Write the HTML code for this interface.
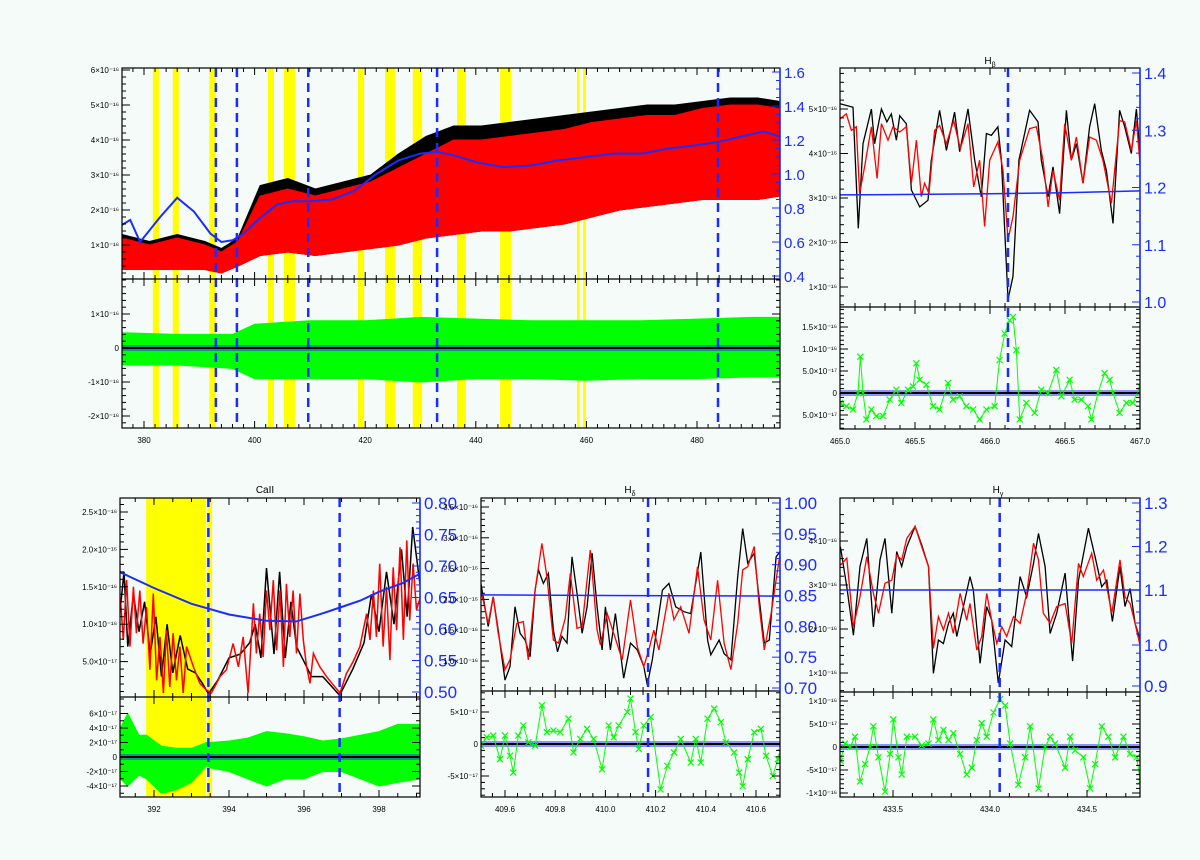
<!DOCTYPE html>
<html><head><meta charset="utf-8">
<style>
html,body{margin:0;padding:0;background:#f5fbf8;}
svg{display:block;}
text{font-family:"Liberation Sans",sans-serif;}
</style></head>
<body>
<svg id="chart" xmlns="http://www.w3.org/2000/svg" width="1200" height="860" viewBox="0 0 1200 860">
<rect x="0" y="0" width="1200" height="860" fill="#f5fbf8"/>
<text x="990" y="64" font-size="10" text-anchor="middle">H<tspan font-size="7" dy="3">β</tspan></text>
<text x="265" y="493" font-size="10" text-anchor="middle">CaII</text>
<text x="630" y="493" font-size="10" text-anchor="middle">H<tspan font-size="7" dy="3">δ</tspan></text>
<text x="998" y="493" font-size="10" text-anchor="middle">H<tspan font-size="7" dy="3">γ</tspan></text>
</svg>
<script>
// ===== Panel 1 (full spectrum) data =====
const p1Wave = [376,381,386,391,394,397,401,406,411,416,421,426,431,436,441,446,451,456,461,466,471,476,481,486,491,495];
const p1BlackHi = [1.3,1.1,1.3,1.1,0.9,1.2,2.7,2.9,2.6,2.8,3.0,3.6,4.1,4.4,4.4,4.5,4.6,4.7,4.8,4.9,5.0,5.0,5.1,5.2,5.2,5.1];
const p1RedHi = [1.2,1.0,1.2,1.0,0.8,1.1,2.4,2.6,2.4,2.6,2.8,3.2,3.6,4.0,4.0,4.1,4.2,4.3,4.5,4.6,4.7,4.7,4.9,5.0,5.0,4.9];
const p1Lo = [0.3,0.3,0.3,0.3,0.2,0.4,0.7,0.8,0.7,0.8,0.9,1.0,1.2,1.3,1.4,1.4,1.5,1.6,1.8,2.0,2.1,2.2,2.3,2.3,2.3,2.4];
const p1ContWave = [376,377.5,379.3,383,386,389,392,394,396,398,401,404,407,410,414,418,422,426,430,433,436,440,445,450,455,460,465,470,475,480,484,488,492,495];
const p1Cont = [0.70,0.73,0.60,0.75,0.86,0.78,0.65,0.60,0.61,0.65,0.74,0.82,0.84,0.84,0.85,0.90,1.00,1.08,1.12,1.13,1.11,1.07,1.04,1.05,1.08,1.10,1.12,1.12,1.15,1.17,1.19,1.22,1.25,1.22];
const p1ResWave = [376,386,396,400,410,420,430,440,450,460,470,480,490,495];
const p1ResHi = [0.45,0.4,0.4,0.7,0.8,0.8,0.9,0.85,0.8,0.8,0.8,0.85,0.9,0.9];
const p1ResLo = [-0.5,-0.5,-0.6,-0.9,-0.9,-0.9,-1.0,-0.9,-0.9,-0.95,-0.9,-0.9,-0.85,-0.85];
const p1Yellow = [[381.6,382.7],[385.2,386.3],[391.8,393.0],[402.4,403.5],[405.3,407.3],[418.7,419.8],[423.6,425.4],[428.6,430.3],[436.6,438.2],[444.4,446.4],[458.3,458.8],[459.4,459.9]];
const p1Lines = [393.0,396.8,409.7,433.0,483.8];
const p1XTicks = [380,400,420,440,460,480];
const p1YTicks = [1,2,3,4,5,6];
const p1ResTicks = [1,0,-1,-2];
const p1RightTicks = [0.4,0.6,0.8,1.0,1.2,1.4,1.6];

// ===== Panel 2 (H beta) =====
const p2Wave = [465.000,465.087,465.122,465.153,465.209,465.231,465.276,465.313,465.342,465.376,465.398,465.442,465.476,465.531,465.587,465.609,465.664,465.709,465.764,465.798,465.853,465.898,465.942,465.976,466.009,466.053,466.076,466.120,466.153,466.193,466.264,466.320,466.342,466.387,466.420,466.464,466.509,466.542,466.576,466.620,466.664,466.698,466.742,466.776,466.820,466.864,466.898,466.942,466.976,467.000];
const p2Black = [5.12,5.04,2.32,4.22,5.00,4.22,5.00,4.71,4.89,4.30,4.85,4.67,3.18,2.80,2.95,3.85,4.97,4.07,4.93,4.04,5.00,3.85,3.03,4.45,4.41,4.60,3.85,0.72,1.24,3.85,4.97,4.71,3.85,3.03,3.70,2.65,4.97,3.85,4.22,3.33,4.60,5.12,4.07,3.62,2.43,4.97,4.60,4.00,5.00,4.00];
const p2RedWave = [465.000,465.042,465.076,465.109,465.131,465.164,465.209,465.247,465.276,465.320,465.353,465.398,465.442,465.476,465.509,465.542,465.564,465.593,465.631,465.664,465.709,465.758,465.802,465.853,465.891,465.931,465.964,465.998,466.053,466.087,466.120,466.153,466.198,466.264,466.309,466.353,466.387,466.420,466.464,466.498,466.542,466.576,466.620,466.664,466.709,466.753,466.809,466.864,466.898,466.942,466.976,467.000];
const p2Red = [4.78,4.89,4.52,4.60,3.10,3.70,4.60,3.44,4.67,4.30,4.60,4.48,4.60,3.33,4.30,3.03,3.33,3.10,4.52,4.63,4.22,4.74,4.11,4.67,3.25,3.85,2.36,3.85,4.26,3.62,2.06,2.58,3.85,4.56,4.60,3.85,2.80,3.62,2.95,4.67,3.85,4.37,3.33,4.37,4.30,3.85,2.88,4.74,4.71,4.07,4.74,3.77];
const p2ContWave = [465.0,465.5,466.0,466.5,467.0];
const p2Cont = [1.187,1.188,1.189,1.191,1.194];
const p2ResWave = [465.000,465.042,465.087,465.120,465.136,465.153,465.176,465.209,465.242,465.287,465.331,465.376,465.409,465.453,465.487,465.509,465.531,465.576,465.620,465.664,465.720,465.753,465.798,465.842,465.887,465.931,465.976,466.031,466.064,466.098,466.131,466.153,466.176,466.198,466.242,466.298,466.342,466.387,466.442,466.476,466.531,466.564,466.609,466.653,466.676,466.720,466.764,466.798,466.820,466.864,466.909,466.953,467.000];
const p2Res = [-0.225,-0.30,-0.375,0,0.825,0,-0.60,-0.375,-0.525,-0.525,-0.15,0.075,-0.225,0.075,0.15,0.675,0.30,0.19,-0.30,-0.375,0.225,-0.15,-0.075,-0.30,-0.375,-0.60,-0.375,-0.30,0.75,1.35,1.65,1.725,0.975,-0.60,-0.225,-0.45,0.075,0,0.525,-0.075,0.30,-0.15,-0.15,-0.30,-0.60,0,0.45,0.30,0,-0.45,-0.225,-0.225,0.15];
const p2Line = 466.12;
const p2XTicks = [465.0,465.5,466.0,466.5,467.0];
const p2XLabels = ["465.0","465.5","466.0","466.5","467.0"];
const p2YTicks = [1,2,3,4,5];
const p2ResTicks = [1.5,1.0,0.5,0,-0.5];
const p2ResLabels = ["1.5×10⁻¹⁶","1.0×10⁻¹⁶","5.0×10⁻¹⁷","0","5.0×10⁻¹⁷"];
const p2RightTicks = [1.0,1.1,1.2,1.3,1.4];

// ===== Panel 3 (CaII) =====
const p3Wave = [391.10,391.18,391.27,391.36,391.45,391.53,391.62,391.71,391.80,391.89,391.98,392.07,392.16,392.25,392.33,392.42,392.51,392.60,392.69,392.78,392.87,393.05,393.22,393.40,393.53,393.76,393.93,394.11,394.25,394.38,394.51,394.65,394.73,394.82,394.91,395.00,395.09,395.18,395.27,395.36,395.45,395.53,395.62,395.71,395.80,395.89,395.98,396.07,396.16,396.25,396.33,396.42,396.60,396.78,396.96,397.13,397.31,397.49,397.67,397.76,397.85,397.93,398.02,398.11,398.20,398.29,398.38,398.47,398.56,398.65,398.74,398.82,398.91,399.00,399.10];
const p3Red = [1.36,0.79,1.59,0.70,1.50,0.88,1.45,0.74,1.23,0.39,1.41,0.25,0.83,0.08,0.92,0.16,0.88,0.25,0.70,0.08,0.70,0.43,0.21,0.12,0.08,0.30,0.39,0.74,0.43,0.83,0.08,1.28,0.61,1.14,0.56,1.45,0.92,1.59,0.65,1.45,0.43,1.54,0.83,1.45,0.61,1.41,0.79,0.43,0.21,0.61,0.52,0.43,0.30,0.19,0.08,0.34,0.50,0.70,1.14,0.79,1.45,0.83,1.81,0.70,1.50,0.52,1.76,0.92,2.03,0.79,2.12,1.05,1.81,1.19,1.36];
const p3BlackWave = [391.10,391.20,391.30,391.45,391.60,391.75,391.90,392.05,392.20,392.35,392.50,392.70,392.90,393.10,393.30,393.45,393.70,394.00,394.30,394.55,394.70,394.85,395.00,395.20,395.35,395.50,395.65,395.80,396.00,396.20,396.50,396.95,397.30,397.60,397.80,398.00,398.20,398.40,398.60,398.75,398.90,399.10];
const p3Black = [1.20,1.70,0.70,1.40,0.90,1.30,0.60,1.10,0.30,1.00,0.35,0.85,0.40,0.35,0.20,0.07,0.25,0.55,0.60,0.75,1.00,0.55,1.75,0.60,1.70,0.55,1.30,0.70,0.50,0.30,0.30,0.05,0.40,0.75,1.40,0.90,1.70,1.00,2.00,1.10,2.30,1.50];
const p3ContWave = [391.1,392.0,393.0,394.0,395.0,395.8,396.5,397.0,397.5,398.0,398.6,399.1];
const p3Cont = [0.690,0.665,0.640,0.623,0.613,0.612,0.625,0.635,0.645,0.659,0.672,0.688];
const p3ResWave = [391.1,391.3,391.6,391.8,392.2,392.6,393.0,393.4,393.5,394.0,394.5,395.0,395.5,396.0,396.5,397.0,397.5,398.0,398.5,399.1];
const p3ResHi = [4,6,3,3,1.5,1.2,1.2,2,2,2.2,2.6,3.5,3.2,2.8,2.2,2.5,3.0,3.5,4.5,4.5];
const p3ResLo = [-3,-4,-2.5,-3,-5,-4.5,-3.5,-1.2,-1.5,-2,-3,-4,-3,-3,-2,-2,-3,-4,-3.5,-3];
const p3Yellow = [[391.79,393.39],[393.42,393.55]];
const p3Lines = [393.45,396.95];
const p3XTicks = [392,394,396,398];
const p3YTicks = [0.5,1.0,1.5,2.0,2.5];
const p3YLabels = ["5.0×10⁻¹⁷","1.0×10⁻¹⁶","1.5×10⁻¹⁶","2.0×10⁻¹⁶","2.5×10⁻¹⁶"];
const p3ResTicks = [6,4,2,0,-2,-4];
const p3ResLabels = ["6×10⁻¹⁷","4×10⁻¹⁷","2×10⁻¹⁷","0","-2×10⁻¹⁷","-4×10⁻¹⁷"];
const p3RightTicks = [0.50,0.55,0.60,0.65,0.70,0.75,0.80];

// ===== Panel 4 (H delta) =====
const p4Wave = [409.504,409.533,409.553,409.573,409.600,409.620,409.640,409.660,409.680,409.700,409.720,409.733,409.753,409.773,409.793,409.809,409.827,409.847,409.867,409.887,409.907,409.927,409.947,409.967,409.987,410.000,410.020,410.040,410.073,410.100,410.127,410.153,410.167,410.187,410.227,410.253,410.280,410.313,410.340,410.380,410.407,410.420,410.453,410.473,410.500,410.527,410.547,410.567,410.593,410.607,410.633,410.653,410.680,410.700];
const p4Black = [2.26,1.56,2.04,1.50,0.69,0.91,1.88,1.45,1.34,1.07,2.15,2.48,2.26,2.42,1.50,1.15,1.40,1.29,2.69,2.10,1.45,1.88,2.75,1.88,1.18,1.88,1.18,1.77,0.72,1.29,1.18,0.91,0.61,1.02,2.15,2.26,1.88,1.80,1.77,2.77,1.34,1.10,1.34,1.12,1.02,2.37,3.15,2.59,2.75,2.21,1.29,1.34,2.69,2.80];
const p4RedWave = [409.504,409.533,409.553,409.573,409.600,409.620,409.647,409.673,409.693,409.720,409.747,409.767,409.793,409.813,409.840,409.860,409.887,409.907,409.940,409.967,409.980,410.007,410.033,410.067,410.100,410.127,410.153,410.173,410.193,410.213,410.253,410.273,410.300,410.333,410.367,410.393,410.420,410.447,410.473,410.500,410.527,410.547,410.567,410.593,410.613,410.633,410.660,410.700];
const p4Red = [2.15,1.61,2.04,1.45,0.86,1.02,1.61,1.64,1.02,2.15,2.91,2.37,1.34,1.29,1.69,2.42,1.53,1.56,2.80,1.50,1.26,1.77,1.45,1.02,1.99,1.23,0.91,1.18,1.50,1.18,2.10,1.67,1.88,1.45,2.53,1.67,1.34,2.31,1.29,0.86,1.61,2.48,2.53,2.86,1.88,1.18,1.77,2.86];
const p4ContWave = [409.5,410.0,410.7];
const p4Cont = [0.851,0.850,0.849];
const p4ResWave = [409.504,409.527,409.553,409.580,409.600,409.620,409.633,409.653,409.673,409.693,409.720,409.747,409.767,409.793,409.820,409.853,409.873,409.900,409.927,409.953,409.987,410.013,410.033,410.053,410.087,410.100,410.120,410.133,410.153,410.180,410.220,410.247,410.273,410.300,410.340,410.360,410.380,410.407,410.433,410.460,410.480,410.513,410.533,410.547,410.567,410.593,410.620,410.640,410.667,410.687,410.700];
const p4Res = [-0.26,1.05,1.32,-2.37,1.32,-1.84,-4.47,1.32,2.89,0.26,-0.26,6.05,1.84,2.10,1.84,3.95,-1.32,0.79,2.37,0.79,-3.95,2.89,1.05,2.89,5.0,7.1,1.84,-0.79,2.89,4.21,-7.1,-3.42,-1.32,0.79,-2.89,0.79,-2.89,3.95,5.53,3.42,0.26,-1.32,-4.47,-6.58,-2.37,1.84,2.37,-1.84,-5.0,-2.37,-1.32];
const p4Line = 410.17;
const p4XTicks = [409.6,409.8,410.0,410.2,410.4,410.6];
const p4XLabels = ["409.6","409.8","410.0","410.2","410.4","410.6"];
const p4YTicks = [1.0,1.5,2.0,2.5,3.0,3.5];
const p4YLabels = ["1.0×10⁻¹⁶","1.5×10⁻¹⁶","2.0×10⁻¹⁶","2.5×10⁻¹⁶","3.0×10⁻¹⁶","3.5×10⁻¹⁶"];
const p4ResTicks = [5,0,-5];
const p4ResLabels = ["5×10⁻¹⁷","0","-5×10⁻¹⁷"];
const p4RightTicks = [0.70,0.75,0.80,0.85,0.90,0.95,1.00];

// ===== Panel 5 (H gamma) =====
const p5Wave = [433.229,433.262,433.296,433.330,433.365,433.399,433.433,433.459,433.494,433.519,433.545,433.571,433.614,433.648,433.683,433.708,433.734,433.760,433.786,433.811,433.829,433.863,433.897,433.914,433.949,433.983,434.009,434.043,434.078,434.112,434.155,434.189,434.224,434.250,434.284,434.310,434.344,434.387,434.426,434.456,434.507,434.542,434.576,434.602,434.631,434.670,434.696,434.722,434.748,434.775];
const p5Black = [3.87,2.96,1.86,3.42,4.06,2.05,3.57,4.06,2.36,3.76,3.42,3.87,4.33,3.91,3.42,0.99,1.75,1.67,2.13,2.36,1.83,2.51,3.19,2.89,1.22,2.51,2.20,0.77,1.75,1.60,3.19,2.73,3.49,4.17,3.42,1.90,2.36,3.27,1.27,3.11,4.29,3.64,2.96,3.11,2.17,3.42,2.51,2.92,2.13,1.75];
const p5RedWave = [433.229,433.262,433.296,433.330,433.365,433.399,433.425,433.459,433.494,433.519,433.545,433.571,433.614,433.648,433.683,433.708,433.734,433.760,433.786,433.811,433.846,433.880,433.897,433.932,433.957,433.983,434.009,434.035,434.061,434.086,434.121,434.155,434.189,434.224,434.250,434.275,434.310,434.344,434.387,434.421,434.456,434.481,434.524,434.550,434.585,434.628,434.670,434.696,434.722,434.748,434.775];
const p5Red = [3.45,3.61,2.05,2.73,3.64,2.81,2.36,3.04,3.11,3.68,3.57,4.06,4.33,3.87,3.42,1.56,2.28,1.98,2.36,1.90,2.81,2.20,2.58,1.52,1.83,2.81,2.20,1.67,2.05,1.83,2.28,2.13,2.81,3.95,3.57,2.36,2.13,2.51,2.58,1.67,3.49,3.19,3.72,3.11,3.34,2.36,3.57,2.73,2.58,2.13,1.60];
const p5ContWave = [433.2,434.0,434.8];
const p5Cont = [1.10,1.10,1.10];
const p5ResWave = [433.229,433.253,433.279,433.304,433.330,433.356,433.382,433.399,433.425,433.459,433.485,433.502,433.528,433.545,433.571,433.614,433.648,433.683,433.708,433.734,433.760,433.786,433.811,433.846,433.880,433.906,433.932,433.957,433.983,434.018,434.052,434.078,434.104,434.146,434.181,434.207,434.250,434.284,434.310,434.335,434.387,434.413,434.439,434.481,434.516,434.542,434.576,434.610,434.645,434.688,434.722,434.756,434.775];
const p5Res = [-3.0,0.75,0,2.24,-7.5,-3.7,0,4.5,-2.24,-9.7,-1.5,6.0,-2.24,-6.0,2.24,2.24,0.37,0.75,6.0,1.5,3.7,1.5,3.0,-1.5,-6.0,-4.5,1.5,5.2,2.24,7.5,10.4,9.0,0.75,-8.2,-2.24,4.5,-9.0,0,2.24,0.75,-4.5,2.24,-0.75,-2.24,-9.0,-3.7,4.5,2.24,-2.24,2.24,-1.5,-2.24,-7.5];
const p5Line = 434.05;
const p5XTicks = [433.5,434.0,434.5];
const p5XLabels = ["433.5","434.0","434.5"];
const p5YTicks = [1,2,3,4];
const p5ResTicks = [10,5,0,-5,-10];
const p5ResLabels = ["1×10⁻¹⁶","5×10⁻¹⁷","0","-5×10⁻¹⁷","-1×10⁻¹⁶"];
const p5RightTicks = [0.9,1.0,1.1,1.2,1.3];

// ===== helpers =====
const NS = 'http://www.w3.org/2000/svg';
const svg = document.getElementById('chart');
function mk(tag, attrs, parent){
  const e = document.createElementNS(NS, tag);
  for (const k in attrs) e.setAttribute(k, attrs[k]);
  (parent || svg).appendChild(e);
  return e;
}
function lin(d0,d1,p0,p1){ const k=(p1-p0)/(d1-d0); return v => p0+(v-d0)*k; }
function pts(xs, ys, sx, sy){ return xs.map((x,i)=>sx(x).toFixed(1)+','+sy(ys[i]).toFixed(1)).join(' '); }
let clipId = 0;
function clipRect(x,y,w,h){
  const id='clip'+(clipId++);
  const cp = mk('clipPath',{id:id});
  mk('rect',{x:x,y:y,width:w,height:h},cp);
  return 'url(#'+id+')';
}
const BLUE = '#1a2cff';

function drawFrame(P){
  const g = mk('g',{});
  
  
  const f = mk('rect',{x:P.L,y:P.T,width:P.R-P.L,height:P.B-P.T,fill:'none',stroke:'#000','stroke-width':1.2},g);
  
  
  const d = mk('line',{x1:P.L,x2:P.R,y1:P.M,y2:P.M,stroke:'#000','stroke-width':1.2},g);
  
  
  // x ticks
  for (let v=P.xMinor0; v<=P.xmax+1e-9; v+=P.xMinor){
    const x=P.sx(v); if (x<P.L||x>P.R) continue;
    const major = P.xTicks.some(t=>Math.abs(t-v)<P.xMinor/3);
    const len = major?7:4;
    [[P.B,-len],[P.M,-len],[P.M,len],[P.T,len]].forEach(([y,l])=>{
      const t = mk('line',{x1:x,x2:x,y1:y,y2:y+l,stroke:'#000','stroke-width':1},g);
      
      
    });
  }
  P.xTicks.forEach((v,i)=>{
    const t = mk('text',{x:P.sx(v),y:P.B+15,'font-size':8,'text-anchor':'middle',fill:'#000'},g);
    t.textContent = P.xLabels ? P.xLabels[i] : String(v);
    
    
  });
  // left y ticks (top)
  for (let v=P.yMinor0; v<=P.yMax+1e-9; v+=P.yMinor){
    const y=P.sy(v); if (y<P.T||y>P.M) continue;
    const major = P.yTicks.some(t=>Math.abs(t-v)<P.yMinor/3);
    const t = mk('line',{x1:P.L,x2:P.L+(major?8:4),y1:y,y2:y,stroke:'#000','stroke-width':1},g);
    
    
  }
  P.yTicks.forEach((v,i)=>{
    const t = mk('text',{x:P.L-3,y:P.sy(v)+3,'font-size':8,'text-anchor':'end',fill:'#000'},g);
    t.textContent = P.yLabels ? P.yLabels[i] : (v+'×10⁻¹⁶');
    
    
  });
  // residual ticks
  for (let v=P.rMinor0; v<=P.rMax+1e-9; v+=P.rMinor){
    const y=P.sr(v); if (y<P.M||y>P.B) continue;
    const major = P.rTicks.some(t=>Math.abs(t-v)<P.rMinor/3);
    const l = major?8:4;
    const t1 = mk('line',{x1:P.L,x2:P.L+l,y1:y,y2:y,stroke:'#000','stroke-width':1},g);
    
    
    const t2 = mk('line',{x1:P.R,x2:P.R-l,y1:y,y2:y,stroke:'#000','stroke-width':1},g);
    
    
  }
  P.rTicks.forEach((v,i)=>{
    const t = mk('text',{x:P.L-3,y:P.sr(v)+3,'font-size':8,'text-anchor':'end',fill:'#000'},g);
    t.textContent = P.rLabels ? P.rLabels[i] : (v===0?'0':(v+'×10⁻¹⁶'));
    
    
  });
  // right blue axis
  const ra = mk('line',{x1:P.R,x2:P.R,y1:P.T,y2:P.M,stroke:BLUE,'stroke-width':1.5},g);
  
  
  for (let v=P.rtMinor0; v<=P.rtMax+1e-9; v+=P.rtMinor){
    const y=P.sR(v); if (y<P.T||y>P.M) continue;
    const major = P.rightTicks.some(t=>Math.abs(t-v)<P.rtMinor/3);
    const t = mk('line',{x1:P.R,x2:P.R-(major?8:4),y1:y,y2:y,stroke:BLUE,'stroke-width':1},g);
    
    
  }
  P.rightTicks.forEach(v=>{
    const t = mk('text',{x:P.R+4,y:P.sR(v)+6,'font-size':P.rfs,fill:BLUE},g);
    t.textContent = v.toFixed(P.rDec);
    
    
  });
}
function yellowBands(P, bands){
  bands.forEach(b=>{
    const r = mk('rect',{x:P.sx(b[0]),y:P.T,width:P.sx(b[1])-P.sx(b[0]),height:P.B-P.T,fill:'#ffff00'});
    
    
  });
}
function dashed(P, lams){
  lams.forEach(l=>{
    const d = mk('line',{x1:P.sx(l),x2:P.sx(l),y1:P.T,y2:P.B,stroke:BLUE,'stroke-width':2.5,'stroke-dasharray':'9,6'});
    
    
  });
}
function line(P, xs, ys, sy, color, w, clip, name){
  const e = mk('polyline',{points:pts(xs,ys,P.sx,sy),fill:'none',stroke:color,'stroke-width':w,'clip-path':clip});
  
  
  return e;
}
function band(P, xs, hi, lo, sy, color, clip, name){
  const up = xs.map((x,i)=>P.sx(x).toFixed(1)+','+sy(hi[i]).toFixed(1));
  const dn = xs.map((x,i)=>P.sx(x).toFixed(1)+','+sy(lo[i]).toFixed(1)).reverse();
  const e = mk('polygon',{points:up.concat(dn).join(' '),fill:color,stroke:color,'stroke-width':1,'clip-path':clip});
  
  
}
function markers(P, xs, ys, sy, clip){
  let d='';
  xs.forEach((x,i)=>{const X=P.sx(x),Y=sy(ys[i]);d+=`M${X-3},${Y-3}L${X+3},${Y+3}M${X-3},${Y+3}L${X+3},${Y-3}`;});
  const e = mk('path',{d:d,stroke:'#00ff00','stroke-width':1.2,fill:'none','clip-path':clip});
  
  
}
function zeroLines(P, clip){
  const b1 = mk('line',{x1:P.L,x2:P.R,y1:P.sr(0)-2,y2:P.sr(0)-2,stroke:BLUE,'stroke-width':1,'clip-path':clip});
  
  
  const b2 = mk('line',{x1:P.L,x2:P.R,y1:P.sr(0)+2,y2:P.sr(0)+2,stroke:BLUE,'stroke-width':1,'clip-path':clip});
  
  
  const z = mk('line',{x1:P.L,x2:P.R,y1:P.sr(0),y2:P.sr(0),stroke:'#000','stroke-width':2});
  
  
}

// ===== Panel 1 =====
const P1 = {name:'full-spectrum',L:122,R:780,T:68,M:279,B:428,xmax:495,
  sx:lin(380,480,144,697), sy:lin(0,6,280,70), sr:lin(0,1,348,314), sR:lin(0.4,1.6,276,72),
  xTicks:p1XTicks, xMinor:2, xMinor0:376, yTicks:p1YTicks, yMinor:0.2, yMinor0:0, yMax:6.1,
  rTicks:p1ResTicks, rMinor:0.2, rMinor0:-2.4, rMax:2,
  rLabels:["1×10⁻¹⁶","0","-1×10⁻¹⁶","-2×10⁻¹⁶"],
  rightTicks:p1RightTicks, rtMinor:0.05, rtMinor0:0.35, rtMax:1.65, rfs:15, rDec:1};
yellowBands(P1, p1Yellow);
const c1t = clipRect(P1.L,P1.T,P1.R-P1.L,P1.M-P1.T), c1b = clipRect(P1.L,P1.M,P1.R-P1.L,P1.B-P1.M);
band(P1, p1Wave, p1BlackHi, p1Lo, P1.sy, '#000', c1t, 'observed-spectrum');
band(P1, p1Wave, p1RedHi, p1Lo, P1.sy, '#ff0000', c1t, 'model-spectrum');
band(P1, p1ResWave, p1ResHi, p1ResLo, P1.sr, '#00ff00', c1b, 'residuals');
line(P1, p1ContWave, p1Cont, P1.sR, BLUE, 2, c1t, 'continuum-curve');
zeroLines(P1, c1b);
dashed(P1, p1Lines);
drawFrame(P1);

// ===== Panel 2 =====
const P2 = {name:'hbeta',L:840,R:1140,T:68,M:307,B:429,xmax:467,
  sx:lin(465,467,840,1140), sy:lin(1,5,287,109), sr:lin(0,1.5,393,327), sR:lin(1.0,1.4,302,73),
  xTicks:p2XTicks, xLabels:p2XLabels, xMinor:0.1, xMinor0:465, yTicks:p2YTicks, yMinor:0.2, yMinor0:0, yMax:6,
  rTicks:p2ResTicks, rLabels:p2ResLabels, rMinor:0.1, rMinor0:-0.8, rMax:1.9,
  rightTicks:p2RightTicks, rtMinor:0.02, rtMinor0:0.98, rtMax:1.42, rfs:16, rDec:1};
const c2t = clipRect(P2.L,P2.T,P2.R-P2.L,P2.M-P2.T), c2b = clipRect(P2.L,P2.M,P2.R-P2.L,P2.B-P2.M);
line(P2, p2Wave, p2Black, P2.sy, '#000', 1.3, c2t, 'observed-spectrum');
line(P2, p2RedWave, p2Red, P2.sy, '#ff0000', 1.3, c2t, 'model-spectrum');
line(P2, p2ContWave, p2Cont, P2.sR, BLUE, 1.5, c2t, 'continuum-curve');
zeroLines(P2, c2b);
line(P2, p2ResWave, p2Res, P2.sr, '#00ff00', 1, c2b, 'residuals');
markers(P2, p2ResWave, p2Res, P2.sr, c2b);
dashed(P2, [p2Line]);
drawFrame(P2);

// ===== Panel 3 =====
const P3 = {name:'caii',L:120,R:420,T:498,M:697,B:797,xmax:399.1,
  sx:lin(392,398,154,379), sy:lin(0,2.5,699,512), sr:lin(0,4,757,728), sR:lin(0.5,0.8,692,503),
  xTicks:p3XTicks, xMinor:0.5, xMinor0:391.5, yTicks:p3YTicks, yLabels:p3YLabels, yMinor:0.1, yMinor0:0, yMax:2.7,
  rTicks:p3ResTicks, rLabels:p3ResLabels, rMinor:1, rMinor0:-6, rMax:8,
  rightTicks:p3RightTicks, rtMinor:0.01, rtMinor0:0.49, rtMax:0.81, rfs:17, rDec:2};
yellowBands(P3, p3Yellow);
const c3t = clipRect(P3.L,P3.T,P3.R-P3.L,P3.M-P3.T), c3b = clipRect(P3.L,P3.M,P3.R-P3.L,P3.B-P3.M);
line(P3, p3BlackWave, p3Black, P3.sy, '#000', 1.5, c3t, 'observed-spectrum');
line(P3, p3Wave, p3Red, P3.sy, '#ff0000', 1.5, c3t, 'model-spectrum');
line(P3, p3ContWave, p3Cont, P3.sR, BLUE, 2, c3t, 'continuum-curve');
band(P3, p3ResWave, p3ResHi, p3ResLo, P3.sr, '#00ff00', c3b, 'residuals');
zeroLines(P3, c3b);
dashed(P3, p3Lines);
drawFrame(P3);

// ===== Panel 4 =====
const P4 = {name:'hdelta',L:481,R:780,T:498,M:691,B:797,xmax:410.7,
  sx:lin(409.6,410.6,505,756), sy:lin(1,3.5,661,507), sr:lin(0,5,744,712), sR:lin(0.7,1.0,688,503),
  xTicks:p4XTicks, xLabels:p4XLabels, xMinor:0.05, xMinor0:409.5, yTicks:p4YTicks, yLabels:p4YLabels, yMinor:0.1, yMinor0:0.5, yMax:3.7,
  rTicks:p4ResTicks, rLabels:p4ResLabels, rMinor:1, rMinor0:-9, rMax:9,
  rightTicks:p4RightTicks, rtMinor:0.01, rtMinor0:0.69, rtMax:1.01, rfs:17, rDec:2};
const c4t = clipRect(P4.L,P4.T,P4.R-P4.L,P4.M-P4.T), c4b = clipRect(P4.L,P4.M,P4.R-P4.L,P4.B-P4.M);
line(P4, p4Wave, p4Black, P4.sy, '#000', 1.3, c4t, 'observed-spectrum');
line(P4, p4RedWave, p4Red, P4.sy, '#ff0000', 1.3, c4t, 'model-spectrum');
line(P4, p4ContWave, p4Cont, P4.sR, BLUE, 1.5, c4t, 'continuum-curve');
zeroLines(P4, c4b);
line(P4, p4ResWave, p4Res, P4.sr, '#00ff00', 1, c4b, 'residuals');
markers(P4, p4ResWave, p4Res, P4.sr, c4b);
dashed(P4, [p4Line]);
drawFrame(P4);

// ===== Panel 5 =====
const sR5 = v => v>=1.1 ? lin(1.1,1.3,590,503)(v) : (v>=1.0 ? lin(1.0,1.1,645,590)(v) : lin(0.9,1.0,686,645)(v));
const P5 = {name:'hgamma',L:840,R:1140,T:498,M:692,B:797,xmax:434.8,
  sx:lin(433.5,434.5,893,1087), sy:lin(1,4,673,541), sr:lin(0,5,747,724), sR:sR5,
  xTicks:p5XTicks, xLabels:p5XLabels, xMinor:0.1, xMinor0:433.2, yTicks:p5YTicks, yMinor:0.2, yMinor0:0, yMax:4.7,
  rTicks:p5ResTicks, rLabels:p5ResLabels, rMinor:1, rMinor0:-12, rMax:12,
  rightTicks:p5RightTicks, rtMinor:0.02, rtMinor0:0.88, rtMax:1.32, rfs:17, rDec:1};
const c5t = clipRect(P5.L,P5.T,P5.R-P5.L,P5.M-P5.T), c5b = clipRect(P5.L,P5.M,P5.R-P5.L,P5.B-P5.M);
line(P5, p5Wave, p5Black, P5.sy, '#000', 1.3, c5t, 'observed-spectrum');
line(P5, p5RedWave, p5Red, P5.sy, '#ff0000', 1.3, c5t, 'model-spectrum');
line(P5, p5ContWave, p5Cont, P5.sR, BLUE, 1.5, c5t, 'continuum-curve');
zeroLines(P5, c5b);
line(P5, p5ResWave, p5Res, P5.sr, '#00ff00', 1, c5b, 'residuals');
markers(P5, p5ResWave, p5Res, P5.sr, c5b);
dashed(P5, [p5Line]);
drawFrame(P5);
</script>
</body></html>
